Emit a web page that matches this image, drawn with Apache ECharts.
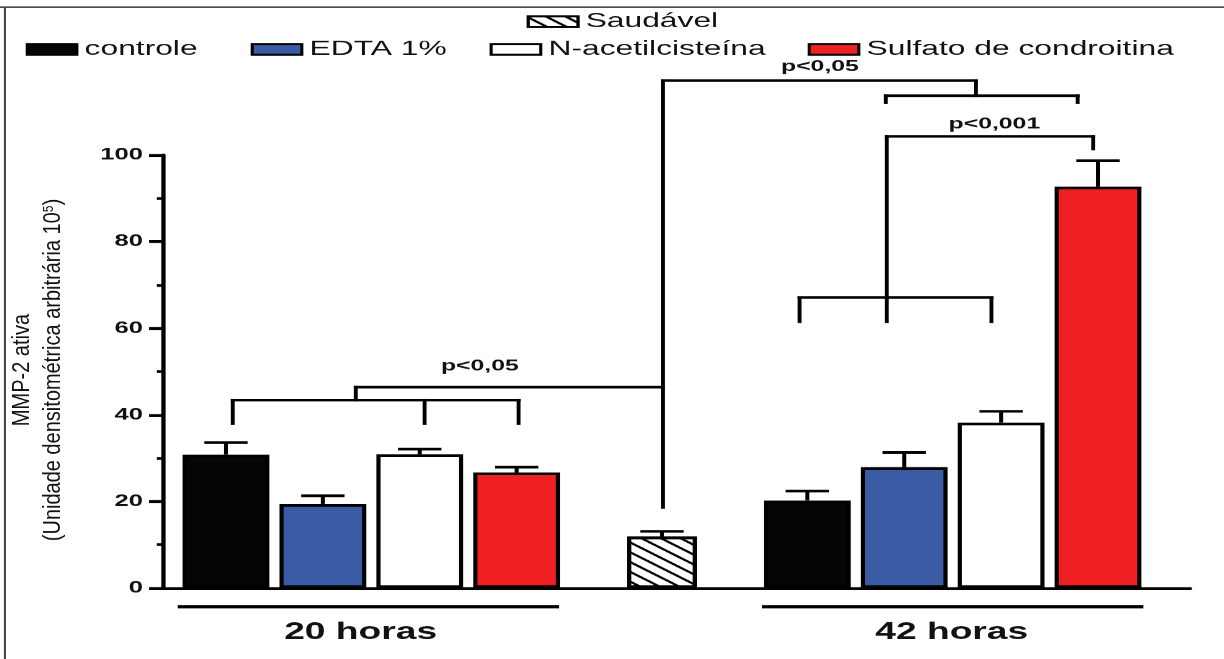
<!DOCTYPE html>
<html>
<head>
<meta charset="utf-8">
<script src="https://cdn.jsdelivr.net/npm/echarts@6/dist/echarts.min.js"></script>
<style>
  html, body { margin: 0; padding: 0; background: #fff; }
  #wrap { width: 1224px; height: 659px; overflow: hidden; position: relative; background: #fff; }
  #chart { width: 790px; height: 659px; transform-origin: 0 0; }
</style>
</head>
<body>
<div id="wrap"><div id="chart"></div></div>
<script>
// the source figure is stretched horizontally, so the chart is drawn narrow and scaled in x
const STRETCH = 1224 / 790;
document.getElementById('chart').style.transform = 'scaleX(' + STRETCH + ')';

const treatments = ['controle', 'EDTA 1%', 'N-acetilcisteína', 'Sulfato de condroitina'];
const colors = ['#050505', '#3b5ba5', '#ffffff', '#ee2024'];
const x20 = [1, 2, 3, 4];
const x42 = [7, 8, 9, 10];
const mean20 = [30.8, 19.4, 30.9, 26.7];
const errTop20 = [33.6, 21.3, 32.1, 27.9];
const mean42 = [20.2, 27.9, 38.2, 92.7];
const errTop42 = [22.4, 31.3, 40.8, 98.7];

const saudavelName = 'Saudável';
const saudavelX = 5.5;
const saudavelMean = 11.9;
const saudavelErrTop = 13.1;

const yTicks = [0, 20, 40, 60, 80, 100];

// significance brackets, segments [x1, y1, x2, y2] in data units
const bracketSegs = [
  [1.07, 43.4, 4.02, 43.4], [1.07, 43.4, 1.07, 38.0], [3.05, 43.4, 3.05, 38.0], [4.02, 43.4, 4.02, 38.0],
  [2.34, 43.4, 2.34, 46.4], [2.34, 46.4, 5.51, 46.4],
  [5.51, 18.6, 5.51, 117.2], [5.51, 117.2, 8.74, 117.2], [8.74, 117.2, 8.74, 113.7],
  [7.81, 113.7, 9.79, 113.7], [7.81, 113.7, 7.81, 112.1], [9.79, 113.7, 9.79, 112.1],
  [7.82, 66.9, 7.82, 104.3], [7.82, 104.3, 9.95, 104.3], [9.95, 104.3, 9.95, 101.4],
  [6.92, 67.1, 8.9, 67.1], [6.92, 67.1, 6.92, 61.5], [7.82, 67.1, 7.82, 61.5], [8.9, 67.1, 8.9, 61.5]
];
const pLabels = ['p<0,05', 'p<0,05', 'p<0,001'];
const pLabelPos = [[3.62, 51.2], [7.13, 120.4], [8.93, 107.2]];

const groupLabels = ['20 horas', '42 horas'];
const groupLabelPos = [[2.39, -10.3], [8.49, -10.3]];
const groupLineSegs = [[0.53, -4.3, 4.41, -4.3], [6.56, -4.3, 10.44, -4.3]];

const FONT = '"Liberation Sans", Arial, sans-serif';

const chart = echarts.init(document.getElementById('chart'), null, { devicePixelRatio: STRETCH });

const barSeries = treatments.map((name, i) => ({
  name: name,
  type: 'bar',
  xAxisIndex: 0,
  barWidth: 56,
  barGap: '-100%',
  itemStyle: { color: colors[i], borderColor: '#000', borderWidth: 2.7 },
  data: [[x20[i], mean20[i]], [x42[i], mean42[i]]],
  z: 2
}));

const hatch = {
  symbol: 'rect', symbolSize: 1,
  dashArrayX: [1, 0], dashArrayY: [2, 6],
  rotation: 0.66, color: '#000', backgroundColor: '#fff'
};

const saudavelSeries = {
  name: saudavelName,
  type: 'bar',
  xAxisIndex: 1,
  barWidth: 45,
  itemStyle: { color: '#fff', borderColor: '#000', borderWidth: 2.7, decal: hatch },
  data: [[saudavelX, saudavelMean]],
  z: 2
};

const errData = [];
treatments.forEach((n, i) => {
  errData.push([x20[i], mean20[i], errTop20[i]]);
  errData.push([x42[i], mean42[i], errTop42[i]]);
});
errData.push([saudavelX, saudavelMean, saudavelErrTop]);

const errSeries = {
  type: 'custom',
  silent: true,
  clip: false,
  z: 3,
  data: errData,
  renderItem: (params, api) => {
    const base = api.coord([api.value(0), api.value(1)]);
    const top = api.coord([api.value(0), api.value(2)]);
    const half = 14;
    const st = { stroke: '#000', lineWidth: 2.6 };
    return {
      type: 'group',
      children: [
        { type: 'line', shape: { x1: base[0], y1: base[1], x2: top[0], y2: top[1] }, style: st },
        { type: 'line', shape: { x1: top[0] - half, y1: top[1], x2: top[0] + half, y2: top[1] }, style: st }
      ]
    };
  }
};

function segSeries(segs, width) {
  return {
    type: 'custom',
    silent: true,
    clip: false,
    z: 4,
    data: segs,
    encode: { x: [0, 2], y: [1, 3] },
    renderItem: (params, api) => {
      const a = api.coord([api.value(0), api.value(1)]);
      const b = api.coord([api.value(2), api.value(3)]);
      return {
        type: 'line',
        shape: { x1: a[0], y1: a[1], x2: b[0], y2: b[1] },
        style: { stroke: '#000', lineWidth: width, lineCap: 'square' }
      };
    }
  };
}

function textSeries(texts, pos, size) {
  return {
    type: 'custom',
    silent: true,
    clip: false,
    z: 5,
    data: pos,
    renderItem: (params, api) => {
      const p = api.coord([api.value(0), api.value(1)]);
      return {
        type: 'text',
        x: p[0], y: p[1],
        style: {
          text: texts[params.dataIndex],
          fontFamily: FONT, fontWeight: 'bold', fontSize: size,
          fill: '#111', align: 'center', verticalAlign: 'middle'
        }
      };
    }
  };
}

function legendAt(name, left, top) {
  return {
    data: [{ name: name, icon: 'rect' }],
    left: left, top: top,
    itemWidth: 32, itemHeight: 10.5,
    itemGap: 5,
    selectedMode: false,
    textStyle: { fontFamily: FONT, fontSize: 20.5, color: '#111' }
  };
}

const option = {
  animation: false,
  backgroundColor: '#fff',
  grid: { left: 105.2, right: 21.9, top: 155, bottom: 71, containLabel: false },
  legend: [
    legendAt(saudavelName, 335, 6),
    legendAt(treatments[0], 11.6, 34),
    legendAt(treatments[1], 156.8, 34),
    legendAt(treatments[2], 311, 34),
    legendAt(treatments[3], 516.3, 34)
  ],
  xAxis: [
    {
      type: 'value', min: 0.35, max: 10.95,
      axisLine: { show: true, onZero: false, lineStyle: { color: '#000', width: 2.8 } },
      axisTick: { show: false }, axisLabel: { show: false }, splitLine: { show: false }
    },
    { type: 'value', min: 0.35, max: 10.95, show: false, splitLine: { show: false } }
  ],
  yAxis: {
    type: 'value', min: yTicks[0], max: yTicks[yTicks.length - 1], interval: 20,
    axisLine: { show: true, lineStyle: { color: '#000', width: 2.8 } },
    axisTick: { show: true, length: 9, lineStyle: { color: '#000', width: 2.8 } },
    minorTick: { show: true, splitNumber: 2, length: 4, lineStyle: { color: '#000', width: 2.8 } },
    splitLine: { show: false },
    axisLabel: { color: '#111', fontFamily: FONT, fontWeight: 'bold', fontSize: 16.5, margin: 13 }
  },
  graphic: [
    { type: 'line', shape: { x1: 0, y1: 7, x2: 790, y2: 7 }, style: { stroke: '#444', lineWidth: 1.5 } },
    { type: 'line', shape: { x1: 3.2, y1: 7, x2: 3.2, y2: 659 }, style: { stroke: '#444', lineWidth: 1.3 } },
    {
      type: 'text', x: 14.5, y: 370, rotation: Math.PI / 2, scaleY: 0.75,
      style: { text: 'MMP-2 ativa', fontFamily: FONT, fontSize: 20, fill: '#111', align: 'center', verticalAlign: 'middle' }
    },
    {
      type: 'text', x: 34.5, y: 370, rotation: Math.PI / 2, scaleY: 0.75,
      style: {
        text: '(Unidade densitométrica arbitrária 10{sup|5})',
        fontFamily: FONT, fontSize: 20, fill: '#111', align: 'center', verticalAlign: 'middle',
        rich: { sup: { fontFamily: FONT, fontSize: 12, verticalAlign: 'top', padding: [0, 0, 8, 0] } }
      }
    }
  ],
  series: [
    ...barSeries,
    saudavelSeries,
    errSeries,
    segSeries(bracketSegs, 2.5),
    segSeries(groupLineSegs, 3.5),
    textSeries(pLabels, pLabelPos, 16),
    textSeries(groupLabels, groupLabelPos, 24)
  ]
};

chart.setOption(option);
</script>
</body>
</html>
